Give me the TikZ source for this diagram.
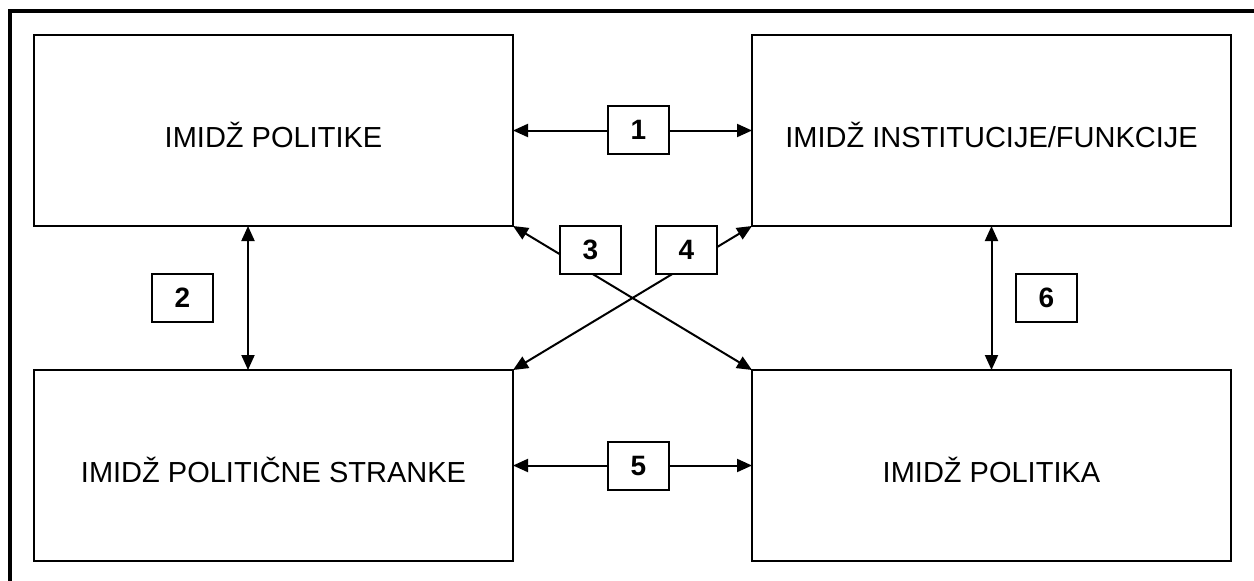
\documentclass[tikz,border=0pt]{standalone}
\usepackage{fontspec}
\setmainfont{Liberation Sans}
\usetikzlibrary{positioning, arrows.meta}

\begin{document}
\begin{tikzpicture}[
    x=1pt, y=-1pt, line width=2pt, <->, >={Triangle[length=15pt, width=13pt]},
    box/.style={rectangle, draw, -, outer sep=0pt, minimum width=479pt, minimum height=191pt,
        font=\fontsize{29}{32}\selectfont, text height=33pt, text depth=0pt},
    num/.style={rectangle, draw, -, fill=white, minimum width=61pt, minimum height=48pt,
        inner sep=0pt, font=\fontsize{28}{30}\selectfont\bfseries}
]
    \useasboundingbox (0,0) rectangle (1254,581);
    \draw[-, line width=4pt] (10,581) -- (10,11) -- (1254,11);

    \node[box] (politika) at (273.5,130.5) {IMIDŽ POLITIKE};
    \node[box] (institucija) [right=239pt of politika] {IMIDŽ INSTITUCIJE/FUNKCIJE};
    \node[box] (stranka) [below=144pt of politika] {IMIDŽ POLITIČNE STRANKE};
    \node[box] (politik) [right=239pt of stranka] {IMIDŽ POLITIKA};

    \draw (politika.east) -- (institucija.west);
    \draw (stranka.east) -- (politik.west);
    \draw ([xshift=-25.5pt]politika.south) -- ([xshift=-25.5pt]stranka.north);
    \draw (institucija.south) -- (politik.north);
    \draw (politika.south east) -- (politik.north west);
    \draw (stranka.north east) -- (institucija.south west);

    \node[num] (n1) at (638.5,130) {1};
    \node[num] (n2) at (182.5,297.5) {2};
    \node[num] (n3) at (590.5,250) {3};
    \node[num] (n4) at (686.5,250) {4};
    \node[num] (n5) at (638.5,466) {5};
    \node[num] (n6) at (1046.5,297.5) {6};
\end{tikzpicture}
\end{document}
